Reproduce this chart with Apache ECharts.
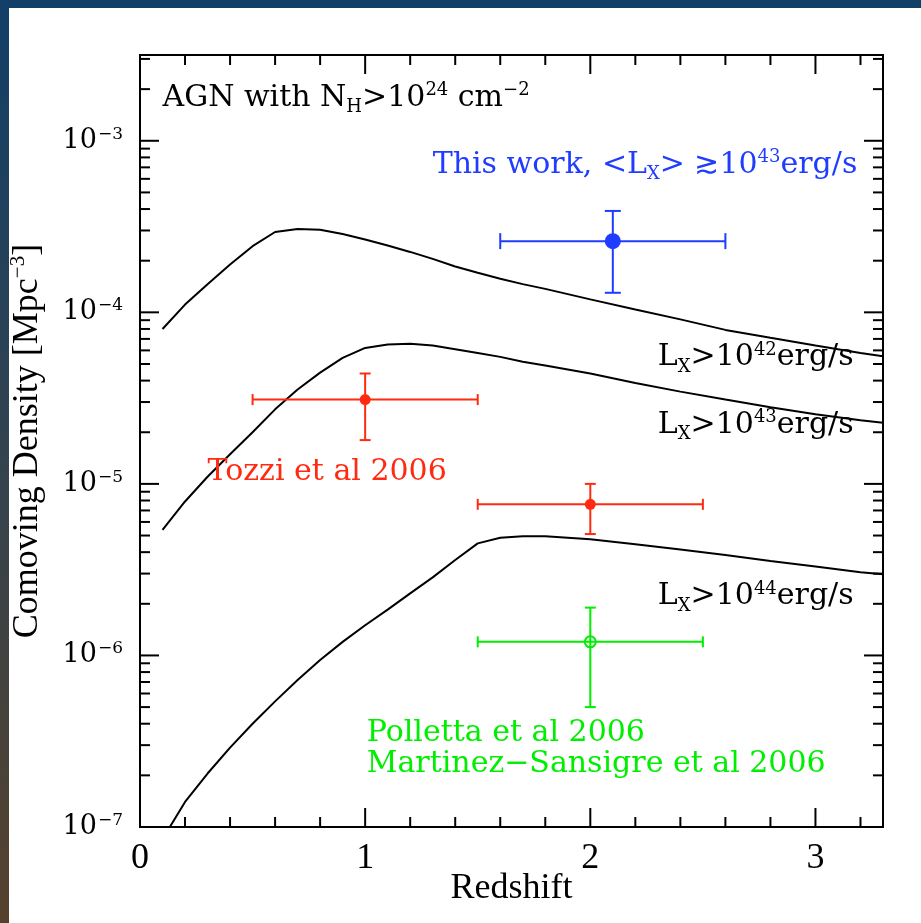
<!DOCTYPE html>
<html>
<head>
<meta charset="utf-8">
<script src="https://cdn.jsdelivr.net/npm/echarts@6/dist/echarts.min.js"></script>
<style>
  html, body { margin: 0; padding: 0; background: #fff; }
  #chart { width: 921px; height: 923px; }
</style>
</head>
<body>
<div id="chart"></div>
<script>
// Model curves: space density of Compton-thick AGN vs redshift
const redshiftGrid = [0.1, 0.2, 0.3, 0.4, 0.5, 0.6, 0.7, 0.8, 0.9, 1.0, 1.1, 1.2, 1.3,
                      1.4, 1.5, 1.6, 1.7, 1.8, 2.0, 2.2, 2.4, 2.6, 2.8, 3.0, 3.2, 3.3];
const densityLx42 = [8.0e-5, 1.11e-4, 1.46e-4, 1.90e-4, 2.43e-4, 2.94e-4, 3.06e-4, 3.03e-4, 2.86e-4,
                     2.66e-4, 2.45e-4, 2.25e-4, 2.05e-4, 1.85e-4, 1.70e-4, 1.57e-4, 1.46e-4, 1.37e-4,
                     1.19e-4, 1.04e-4, 9.1e-5, 7.9e-5, 7.1e-5, 6.4e-5, 5.8e-5, 5.55e-5];
const densityLx43 = [5.4e-6, 7.9e-6, 1.1e-5, 1.49e-5, 2.0e-5, 2.72e-5, 3.55e-5, 4.45e-5, 5.43e-5,
                     6.2e-5, 6.5e-5, 6.55e-5, 6.4e-5, 6.1e-5, 5.8e-5, 5.5e-5, 5.15e-5, 4.9e-5,
                     4.4e-5, 3.87e-5, 3.45e-5, 3.1e-5, 2.8e-5, 2.55e-5, 2.35e-5, 2.27e-5];
const densityLx44 = [8.5e-8, 1.4e-7, 2.05e-7, 2.9e-7, 4.0e-7, 5.4e-7, 7.2e-7, 9.4e-7, 1.2e-6,
                     1.5e-6, 1.85e-6, 2.3e-6, 2.85e-6, 3.6e-6, 4.5e-6, 4.85e-6, 4.95e-6, 4.95e-6,
                     4.75e-6, 4.45e-6, 4.15e-6, 3.85e-6, 3.55e-6, 3.3e-6, 3.05e-6, 2.97e-6];

// Measurements: [z, density, zLow, zHigh, densityLow, densityHigh]
const thisWork  = [[2.1, 2.6e-4, 1.6, 2.6, 1.3e-4, 3.9e-4]];
const tozzi2006 = [[1.0, 3.1e-5, 0.5, 1.5, 1.8e-5, 4.4e-5],
                   [2.0, 7.6e-6, 1.5, 2.5, 5.1e-6, 1.0e-5]];
const polletta2006 = [[2.0, 1.2e-6, 1.5, 2.5, 5.0e-7, 1.9e-6]];

// Axis ranges and tick values
const X_MIN = 0, X_MAX = 3.3;
const Y_MIN = 1e-7, Y_MAX = Math.pow(10, -2.5);
const xMajorTicks = [0, 1, 2, 3];
const xMinorTicks = [0.2, 0.4, 0.6, 0.8, 1.2, 1.4, 1.6, 1.8, 2.2, 2.4, 2.6, 2.8, 3.2];
const yDecades = [-7, -6, -5, -4, -3];

const BLUE = '#1f3cff', RED = '#ff2a10', GREEN = '#00ee00';

// Frame ticks on all four sides: [x, y, isY, isMajor]
const tickData = [];
xMajorTicks.forEach(v => tickData.push([v, Y_MIN, 0, 1]));
xMinorTicks.forEach(v => tickData.push([v, Y_MIN, 0, 0]));
yDecades.forEach(e => {
  tickData.push([X_MIN, Math.pow(10, e), 1, 1]);
  for (let m = 2; m <= 9; m++) {
    const v = m * Math.pow(10, e);
    if (v < Y_MAX) tickData.push([X_MIN, v, 1, 0]);
  }
});

function renderTicks(params, api) {
  const isY = api.value(2), major = api.value(3);
  const len = major ? 19 : 10;
  const st = { stroke: '#000', lineWidth: 2 };
  if (isY) {
    const v = api.value(1);
    const a = api.coord([X_MIN, v]), b = api.coord([X_MAX, v]);
    return { type: 'group', children: [
      { type: 'line', shape: { x1: a[0], y1: a[1], x2: a[0] + len, y2: a[1] }, style: st },
      { type: 'line', shape: { x1: b[0], y1: b[1], x2: b[0] - len, y2: b[1] }, style: st }
    ]};
  }
  const v = api.value(0);
  const a = api.coord([v, Y_MIN]), b = api.coord([v, Y_MAX]);
  return { type: 'group', children: [
    { type: 'line', shape: { x1: a[0], y1: a[1], x2: a[0], y2: a[1] - len }, style: st },
    { type: 'line', shape: { x1: b[0], y1: b[1], x2: b[0], y2: b[1] + len }, style: st }
  ]};
}

function errorBarRenderer(color, cap) {
  return function (params, api) {
    const x = api.value(0), y = api.value(1);
    const l = api.coord([api.value(2), y]), r = api.coord([api.value(3), y]);
    const b = api.coord([x, api.value(4)]), t = api.coord([x, api.value(5)]);
    const st = { stroke: color, lineWidth: 2 };
    const ln = (x1, y1, x2, y2) => ({ type: 'line', shape: { x1, y1, x2, y2 }, style: st });
    return { type: 'group', children: [
      ln(l[0], l[1], r[0], r[1]),
      ln(b[0], b[1], t[0], t[1]),
      ln(l[0], l[1] - cap, l[0], l[1] + cap),
      ln(r[0], r[1] - cap, r[0], r[1] + cap),
      ln(t[0] - cap, t[1], t[0] + cap, t[1]),
      ln(b[0] - cap, b[1], b[0] + cap, b[1])
    ]};
  };
}

const curve = (vals) => redshiftGrid.map((z, i) => [z, vals[i]]);

const noteFont = 'DejaVu Serif';
const noteRich = {
  t:  { fontFamily: noteFont, fontSize: 30, lineHeight: 38, verticalAlign: 'middle' },
  sp: { fontFamily: noteFont, fontSize: 18, lineHeight: 18, verticalAlign: 'top', padding: [3, 0, 0, 0] },
  sb: { fontFamily: noteFont, fontSize: 18, lineHeight: 18, verticalAlign: 'bottom' }
};
function note(z, dens, text, color) {
  return {
    value: [z, dens],
    label: { show: true, position: [0, 0], align: 'left', verticalAlign: 'middle',
             color: color, opacity: 1, formatter: text, rich: noteRich }
  };
}

const option = {
  backgroundColor: '#fff',
  animation: false,
  graphic: [
    { type: 'rect', left: 0, top: 0, z: -10, shape: { width: 921, height: 8 },
      style: { fill: '#123f68' } },
    { type: 'rect', left: 0, top: 0, z: -10, shape: { width: 9, height: 923 },
      style: { fill: { type: 'linear', x: 0, y: 0, x2: 0, y2: 1,
        colorStops: [{ offset: 0, color: '#123f68' }, { offset: 0.5, color: '#33434f' },
                     { offset: 1, color: '#56412c' }] } } }
  ],
  grid: { left: 137, right: 38, top: 55, bottom: 96, show: true,
          borderColor: '#000', borderWidth: 2, backgroundColor: 'transparent' },
  xAxis: {
    type: 'value', min: X_MIN, max: X_MAX, interval: 1,
    axisLine: { show: false }, axisTick: { show: false }, splitLine: { show: false },
    axisLabel: {
      margin: 14, color: '#000', fontFamily: 'Liberation Serif', fontSize: 36,
      formatter: v => (Math.abs(v - Math.round(v)) < 1e-9 ? String(Math.round(v)) : '')
    },
    name: 'Redshift', nameLocation: 'middle', nameGap: 44, nameMoveOverlap: false,
    nameTextStyle: { color: '#000', fontFamily: 'Liberation Serif', fontSize: 36 }
  },
  yAxis: {
    type: 'log', logBase: 10, min: Y_MIN, max: Y_MAX,
    axisLine: { show: false }, axisTick: { show: false }, splitLine: { show: false },
    axisLabel: {
      margin: 17, color: '#000',
      formatter: v => {
        const e = Math.log10(v);
        if (Math.abs(e - Math.round(e)) > 1e-6) return '';
        return '{b|10}{s|\u2212' + Math.abs(Math.round(e)) + '}';
      },
      rich: {
        b: { fontFamily: 'DejaVu Serif', fontSize: 27, lineHeight: 32, verticalAlign: 'middle' },
        s: { fontFamily: 'DejaVu Serif', fontSize: 17, lineHeight: 17, verticalAlign: 'top', padding: [1, 0, 0, 1] }
      }
    },
    name: '{t|Comoving Density [Mpc}{s|\u22123}{t|]}',
    nameLocation: 'middle', nameGap: 92, nameRotate: 90, nameMoveOverlap: false,
    nameTextStyle: {
      color: '#000',
      rich: {
        t: { fontFamily: 'Liberation Serif', fontSize: 36, lineHeight: 40, verticalAlign: 'middle' },
        s: { fontFamily: 'Liberation Serif', fontSize: 21, lineHeight: 20, verticalAlign: 'top' }
      }
    }
  },
  series: [
    { type: 'custom', name: 'ticks', renderItem: renderTicks, data: tickData,
      encode: { x: 0, y: 1 }, clip: false, z: 5, silent: true },
    { type: 'line', name: 'Lx>1e42', data: curve(densityLx42), showSymbol: false,
      lineStyle: { color: '#000', width: 2 }, z: 2 },
    { type: 'line', name: 'Lx>1e43', data: curve(densityLx43), showSymbol: false,
      lineStyle: { color: '#000', width: 2 }, z: 2 },
    { type: 'line', name: 'Lx>1e44', data: curve(densityLx44), showSymbol: false,
      lineStyle: { color: '#000', width: 2 }, z: 2 },
    { type: 'custom', name: 'this work err', renderItem: errorBarRenderer(BLUE, 8),
      data: thisWork, encode: { x: 0, y: 1 }, z: 3 },
    { type: 'custom', name: 'Tozzi err', renderItem: errorBarRenderer(RED, 5.5),
      data: tozzi2006, encode: { x: 0, y: 1 }, z: 3 },
    { type: 'custom', name: 'Polletta err', renderItem: errorBarRenderer(GREEN, 5.5),
      data: polletta2006, encode: { x: 0, y: 1 }, z: 3 },
    { type: 'scatter', name: 'This work', data: thisWork.map(d => [d[0], d[1]]),
      symbol: 'circle', symbolSize: 16, itemStyle: { color: BLUE, opacity: 1 }, z: 4 },
    { type: 'scatter', name: 'Tozzi et al 2006', data: tozzi2006.map(d => [d[0], d[1]]),
      symbol: 'circle', symbolSize: 11, itemStyle: { color: RED, opacity: 1 }, z: 4 },
    { type: 'scatter', name: 'Polletta et al 2006', data: polletta2006.map(d => [d[0], d[1]]),
      symbol: 'circle', symbolSize: 11,
      itemStyle: { color: 'rgba(0,0,0,0)', borderColor: GREEN, borderWidth: 2, opacity: 1 }, z: 4 },
    { type: 'scatter', name: 'notes', symbolSize: 0, silent: true, z: 6,
      itemStyle: { opacity: 1 },
      data: [
        note(0.10, 1.78e-3, '{t|AGN with N}{sb|H}{t|>10}{sp|24}{t| cm}{sp|\u22122}', '#000'),
        note(1.30, 7.25e-4, '{t|This work, <L}{sb|X}{t|> \u227310}{sp|43}{t|erg/s}', BLUE),
        note(2.30, 5.5e-5, '{t|L}{sb|X}{t|>10}{sp|42}{t|erg/s}', '#000'),
        note(2.30, 2.21e-5, '{t|L}{sb|X}{t|>10}{sp|43}{t|erg/s}', '#000'),
        note(2.30, 2.22e-6, '{t|L}{sb|X}{t|>10}{sp|44}{t|erg/s}', '#000'),
        note(0.30, 1.17e-5, '{t|Tozzi et al 2006}', RED),
        note(1.007, 3.53e-7, '{t|Polletta et al 2006}', GREEN),
        note(1.007, 2.33e-7, '{t|Martinez\u2212Sansigre et al 2006}', GREEN)
      ] }
  ]
};

const chart = echarts.init(document.getElementById('chart'), null, { renderer: 'canvas' });
chart.setOption(option);
</script>
</body>
</html>
